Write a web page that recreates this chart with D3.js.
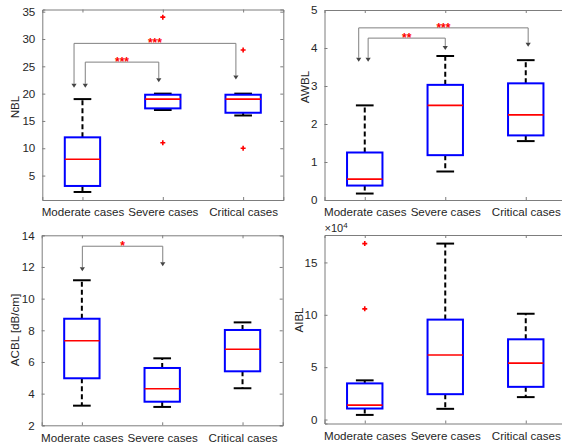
<!DOCTYPE html>
<html>
<head>
<meta charset="utf-8">
<script src="https://cdn.jsdelivr.net/npm/d3@7"></script>
<style>
  body { margin: 0; background: #fff; }
  svg { display: block; font-family: "Liberation Sans", Arial, sans-serif; }
</style>
</head>
<body>
<div id="chart"></div>
<script>
// group names on every x axis
var categories = ["Moderate cases", "Severe cases", "Critical cases"];

// five-number summaries per group: [lower whisker, q1, median, q3, upper whisker]
var nblBoxes = [[2, 3.1, 8, 12, 19], [17, 17.3, 19, 19.8, 20], [16, 16.5, 19, 19.8, 20]];
var nblOutliers = [[], [34, 11], [28, 10]];
var nblTicks = [5, 10, 15, 20, 25, 30, 35];

var awblBoxes = [[0.17, 0.38, 0.55, 1.25, 2.49], [0.75, 1.18, 2.49, 3.03, 3.79], [1.55, 1.7, 2.24, 3.07, 3.68]];
var awblOutliers = [[], [], []];
var awblTicks = [0, 1, 2, 3, 4, 5];

var acblBoxes = [[3.24, 4.97, 7.34, 8.73, 11.16], [3.16, 3.49, 4.31, 5.62, 6.23], [4.34, 5.41, 6.8, 8.02, 8.5]];
var acblOutliers = [[], [], []];
var acblTicks = [2, 4, 6, 8, 10, 12, 14];

// AIBL in units of 10^4
var aiblBoxes = [[0.44, 1.05, 1.37, 3.45, 3.74], [1.02, 2.42, 6.16, 9.54, 16.8], [2.14, 3.12, 5.39, 7.66, 10.1]];
var aiblOutliers = [[16.8, 10.57], [], []];
var aiblTicks = [0, 5, 10, 15];

// significance brackets: x of both legs, height of the bar, arrow tips, stars
var nblSig = [
  { x1: 0.895, x2: 2.91, bar: 29.2, tip1: 21.07, tip2: 22.6, stars: "***" },
  { x1: 1.035, x2: 1.95, bar: 25.77, tip1: 21.07, tip2: 22.1, stars: "***" }
];
var awblSig = [
  { x1: 0.925, x2: 3.03, bar: 4.53, tip1: 3.64, tip2: 4.03, stars: "***" },
  { x1: 1.042, x2: 2.0, bar: 4.26, tip1: 3.64, tip2: 3.95, stars: "**" }
];
var acblSig = [
  { x1: 1.006, x2: 2.007, bar: 13.31, tip1: 11.73, tip2: 12.04, stars: "*" }
];

var width = 562, height = 446;

var svg = d3.select("#chart").append("svg")
  .attr("width", width)
  .attr("height", height);

var panels = [
  { left: 42.3, right: 283.3, top: 9.5, bottom: 200, domain: [0.53, 35.4], ticks: nblTicks,
    boxes: nblBoxes, outliers: nblOutliers, sig: nblSig, label: "NBL", labelX: 15, labelY: 107 },
  { left: 324.5, right: 566, top: 10, bottom: 200, domain: [0, 5], ticks: awblTicks,
    boxes: awblBoxes, outliers: awblOutliers, sig: awblSig, label: "AWBL", labelX: 305, labelY: 87 },
  { left: 41.7, right: 282.7, top: 235.3, bottom: 425.3, domain: [2, 14], ticks: acblTicks,
    boxes: acblBoxes, outliers: acblOutliers, sig: acblSig, label: "ACBL [dB/cm]", labelX: 15, labelY: 330 },
  { left: 324.5, right: 566, top: 235, bottom: 423.5, domain: [-0.38, 17.62], ticks: aiblTicks,
    boxes: aiblBoxes, outliers: aiblOutliers, sig: [], label: "AIBL", labelX: 299, labelY: 320, exp: true }
];

var frameColor = "#7d7d7d";
var textColor = "#262626";

panels.forEach(function(p) {
  var x = d3.scaleLinear().domain([0.5, 3.5]).range([p.left, p.right]);
  var y = d3.scaleLinear().domain(p.domain).range([p.bottom, p.top]);
  var g = svg.append("g");

  // axes with inward ticks, box on
  var tl = 3;
  var yl = d3.axisLeft(y).tickValues(p.ticks).tickSize(-tl).tickPadding(4 + tl).tickFormat(d3.format("d"));
  var yr = d3.axisRight(y).tickValues(p.ticks).tickSize(-tl).tickFormat("");
  var xb = d3.axisBottom(x).tickValues([1, 2, 3]).tickSize(-tl).tickPadding(5 + tl)
    .tickFormat(function(d) { return categories[d - 1]; });
  var xt = d3.axisTop(x).tickValues([1, 2, 3]).tickSize(-tl).tickFormat("");

  [[yl, "translate(" + p.left + ",0)"], [yr, "translate(" + p.right + ",0)"],
   [xb, "translate(0," + p.bottom + ")"], [xt, "translate(0," + p.top + ")"]].forEach(function(a) {
    var ax = g.append("g").attr("transform", a[1]).call(a[0]);
    ax.select(".domain").attr("stroke", frameColor);
    ax.selectAll(".tick line").attr("stroke", frameColor);
    ax.selectAll("text").attr("fill", textColor).style("font-size", "11.6px")
      .style("font-family", "'Liberation Sans', Arial, sans-serif");
  });

  // y label
  g.append("text")
    .attr("transform", "translate(" + p.labelX + "," + p.labelY + ") rotate(-90)")
    .attr("text-anchor", "middle")
    .attr("dy", "0.35em")
    .attr("fill", textColor)
    .style("font-size", "11.6px")
    .text(p.label);

  if (p.exp) {
    var e = g.append("text")
      .attr("x", p.left)
      .attr("y", p.top - 3)
      .attr("fill", textColor)
      .style("font-size", "11px");
    e.append("tspan").text("\u00d710");
    e.append("tspan").attr("dy", -4).style("font-size", "8px").text("4");
  }

  var bw = 0.44, cw = 0.22;

  // boxes
  p.boxes.forEach(function(b, i) {
    var c = i + 1;
    // dashed whiskers
    g.append("line").attr("x1", x(c)).attr("x2", x(c)).attr("y1", y(b[3])).attr("y2", y(b[4]))
      .attr("stroke", "#000").attr("stroke-width", 2).attr("stroke-dasharray", "5,3");
    g.append("line").attr("x1", x(c)).attr("x2", x(c)).attr("y1", y(b[1])).attr("y2", y(b[0]))
      .attr("stroke", "#000").attr("stroke-width", 2).attr("stroke-dasharray", "5,3");
    // caps
    [b[0], b[4]].forEach(function(v) {
      g.append("line").attr("x1", x(c - cw / 2)).attr("x2", x(c + cw / 2))
        .attr("y1", y(v)).attr("y2", y(v))
        .attr("stroke", "#000").attr("stroke-width", 2);
    });
    // box
    g.append("rect")
      .attr("x", x(c - bw / 2)).attr("width", x(c + bw / 2) - x(c - bw / 2))
      .attr("y", y(b[3])).attr("height", y(b[1]) - y(b[3]))
      .attr("fill", "none").attr("stroke", "#0000ff").attr("stroke-width", 2);
    // median
    g.append("line").attr("x1", x(c - bw / 2)).attr("x2", x(c + bw / 2))
      .attr("y1", y(b[2])).attr("y2", y(b[2]))
      .attr("stroke", "#ff0000").attr("stroke-width", 1.6);
  });

  // outliers as red plus signs
  p.outliers.forEach(function(list, i) {
    list.forEach(function(v) {
      var cx = x(i + 1), cy = y(v), s = 2.5;
      g.append("path")
        .attr("d", "M" + (cx - s) + "," + cy + "H" + (cx + s) + "M" + cx + "," + (cy - s) + "V" + (cy + s))
        .attr("stroke", "#ff0000").attr("stroke-width", 1.6);
    });
  });

  // significance brackets
  p.sig.forEach(function(s) {
    var ah = 4, aw = 2.6;
    g.append("path")
      .attr("d", "M" + x(s.x1) + "," + (y(s.tip1) - ah) + "V" + y(s.bar) + "H" + x(s.x2) + "V" + (y(s.tip2) - ah))
      .attr("fill", "none").attr("stroke", "#808080").attr("stroke-width", 1);
    [[s.x1, s.tip1], [s.x2, s.tip2]].forEach(function(t) {
      var tx = x(t[0]), ty = y(t[1]);
      g.append("path")
        .attr("d", "M" + (tx - aw) + "," + (ty - ah) + "L" + (tx + aw) + "," + (ty - ah) + "L" + tx + "," + ty + "Z")
        .attr("fill", "#444");
    });
    g.append("text")
      .attr("x", (x(s.x1) + x(s.x2)) / 2)
      .attr("y", y(s.bar) + 4)
      .attr("text-anchor", "middle")
      .attr("fill", "#ff0000")
      .style("font-size", "12px")
      .style("font-weight", "bold")
      .text(s.stars);
  });
});
</script>
</body>
</html>
